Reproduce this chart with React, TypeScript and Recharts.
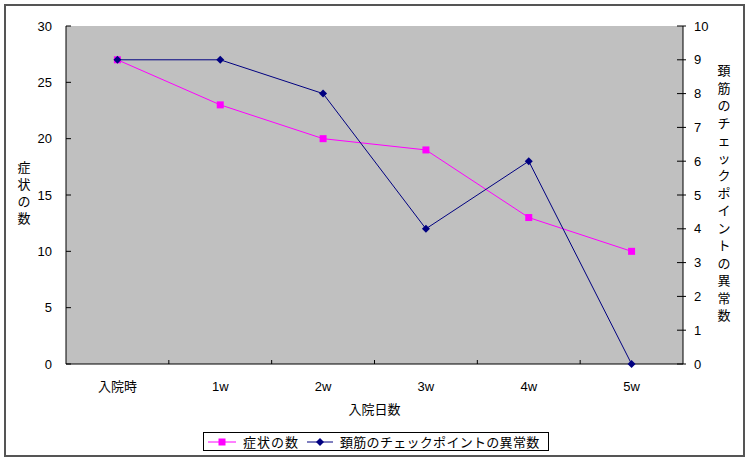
import React from 'react';
import {
    ComposedChart,
    Line,
    XAxis,
    YAxis,
    CartesianGrid,
    Legend
} from 'recharts';

const categories = ['入院時', '1w', '2w', '3w', '4w', '5w'];
const symptomCounts = [27, 23, 20, 19, 13, 10];
const neckAbnormal = [9, 9, 8, 4, 6, 0];
const leftTicks = [0, 5, 10, 15, 20, 25, 30];
const rightTicks = [0, 1, 2, 3, 4, 5, 6, 7, 8, 9, 10];

const SERIES_A = '症状の数';
const SERIES_B = '頚筋のチェックポイントの異常数';

const data = categories.map((c, i) => ({
    name: c,
    symptoms: symptomCounts[i],
    neck: neckAbnormal[i],
}));

const FONT = '"Liberation Sans", "Noto Sans CJK JP", sans-serif';
const MAGENTA = '#ff00ff';
const NAVY = '#000080';

const SquareDot = (p: any) => {
    if (p.cx == null || p.cy == null) return null;
    return <rect key={p.key} x={p.cx - 3.5} y={p.cy - 3.5} width={7} height={7} fill={MAGENTA} />;
};

const DiamondDot = (p: any) => {
    if (p.cx == null || p.cy == null) return null;
    const { cx, cy } = p;
    return (
        <polygon
            key={p.key}
            points={`${cx},${cy - 4} ${cx + 4},${cy} ${cx},${cy + 4} ${cx - 4},${cy}`}
            fill={NAVY}
        />
    );
};

// category labels centred, small marks on the band boundaries
const XTick = (p: any) => {
    const { x, y, payload, index, width, visibleTicksCount } = p;
    const axisY = y - 16;
    const half = payload.offset || width / (2 * (visibleTicksCount || 6));
    return (
        <g>
            <text x={x} y={axisY + 27} textAnchor="middle" fontSize={13} fontFamily={FONT} fill="#000">
                {payload.value}
            </text>
            {index < categories.length - 1 && (
                <line x1={x + half} x2={x + half} y1={axisY} y2={axisY - 4} stroke="#000" />
            )}
        </g>
    );
};

const LeftTick = (p: any) => {
    const { x, y, payload } = p;
    const axisX = x + 14;
    return (
        <g>
            <text x={x} y={y} dy="0.35em" textAnchor="end" fontSize={13} fontFamily={FONT} fill="#000">
                {payload.value}
            </text>
            <line x1={axisX} x2={axisX + 5} y1={y} y2={y} stroke="#000" />
        </g>
    );
};

const RightTick = (p: any) => {
    const { x, y, payload } = p;
    const axisX = x - 11;
    return (
        <g>
            <text x={x} y={y} dy="0.35em" textAnchor="start" fontSize={13} fontFamily={FONT} fill="#000">
                {payload.value}
            </text>
            <line x1={axisX - 6} x2={axisX + 3} y1={y} y2={y} stroke="#000" />
        </g>
    );
};

const verticalLabel = (text: string, dx: number, step: number) => (props: any) => {
    const vb = props.viewBox;
    const chars = Array.from(text);
    const mid = vb.y + vb.height / 2 - 2;
    const startY = mid - ((chars.length - 1) * step) / 2;
    return (
        <text fontSize={13} fontFamily={FONT} fill="#000" textAnchor="middle">
            {chars.map((ch, i) => (
                <tspan key={i} x={vb.x + dx} y={startY + i * step} dy="0.35em">
                    {ch}
                </tspan>
            ))}
        </text>
    );
};

const LegendBox = () => (
    <div
        style={{
            border: '1px solid #000',
            background: '#fff',
            height: 19,
            display: 'flex',
            alignItems: 'center',
            fontFamily: FONT,
            fontSize: 13,
            paddingLeft: 3,
            boxSizing: 'border-box',
            whiteSpace: 'nowrap',
        }}
    >
        <svg width={30} height={10}>
            <line x1={1} x2={29} y1={5} y2={5} stroke={MAGENTA} />
            <rect x={11.5} y={1.5} width={7} height={7} fill={MAGENTA} />
        </svg>
        <span style={{ marginLeft: 6, letterSpacing: 1 }}>{SERIES_A}</span>
        <svg width={28} height={10} style={{ marginLeft: 7 }}>
            <line x1={1} x2={27} y1={5} y2={5} stroke={NAVY} />
            <polygon points="14,1 18,5 14,9 10,5" fill={NAVY} />
        </svg>
        <span style={{ marginLeft: 6, letterSpacing: 0.3 }}>{SERIES_B}</span>
    </div>
);

export default function App() {
    return (
        <div style={{ position: 'absolute', left: 0, top: 0, width: 750, height: 462, background: '#fff' }}>
            <div
                style={{
                    position: 'absolute',
                    left: 4,
                    top: 4,
                    width: 741,
                    height: 453,
                    border: '2px solid #555',
                    boxSizing: 'border-box',
                }}
            />
            <ComposedChart
                width={750}
                height={462}
                data={data}
                margin={{ top: 26, right: 0, bottom: 68, left: 0 }}
            >
                <CartesianGrid fill="#c0c0c0" horizontal={false} vertical={false} />
                <XAxis
                    dataKey="name"
                    scale="band"
                    height={30}
                    axisLine={{ stroke: '#000' }}
                    tickLine={false}
                    tickSize={0}
                    tickMargin={16}
                    interval={0}
                    tick={<XTick />}
                    label={{ value: '入院日数', position: 'insideBottom', offset: -20, fontSize: 13, fontFamily: FONT, fill: '#000' }}
                />
                <YAxis
                    yAxisId="left"
                    width={66}
                    domain={[0, 30]}
                    ticks={leftTicks}
                    interval={0}
                    axisLine={{ stroke: '#000' }}
                    tickLine={false}
                    tickSize={6}
                    tickMargin={8}
                    tick={<LeftTick />}
                    label={{ content: verticalLabel('症状の数', 24, 17) }}
                />
                <YAxis
                    yAxisId="right"
                    orientation="right"
                    width={67}
                    domain={[0, 10]}
                    ticks={rightTicks}
                    interval={0}
                    axisLine={{ stroke: '#000' }}
                    tickLine={false}
                    tickSize={3}
                    tickMargin={8}
                    tick={<RightTick />}
                    label={{ content: verticalLabel('頚筋のチェックポイントの異常数', 41, 17.5) }}
                />
                <Legend
                    layout="horizontal"
                    verticalAlign="middle"
                    align="center"
                    content={<LegendBox />}
                    wrapperStyle={{ position: 'absolute', left: 203, top: 432, width: 346, height: 19 }}
                />
                <Line
                    yAxisId="left"
                    type="linear"
                    dataKey="symptoms"
                    name={SERIES_A}
                    stroke={MAGENTA}
                    strokeWidth={1}
                    dot={SquareDot}
                    activeDot={false}
                    isAnimationActive={false}
                />
                <Line
                    yAxisId="right"
                    type="linear"
                    dataKey="neck"
                    name={SERIES_B}
                    stroke={NAVY}
                    strokeWidth={1}
                    dot={DiamondDot}
                    activeDot={false}
                    isAnimationActive={false}
                />
            </ComposedChart>
        </div>
    );
}
